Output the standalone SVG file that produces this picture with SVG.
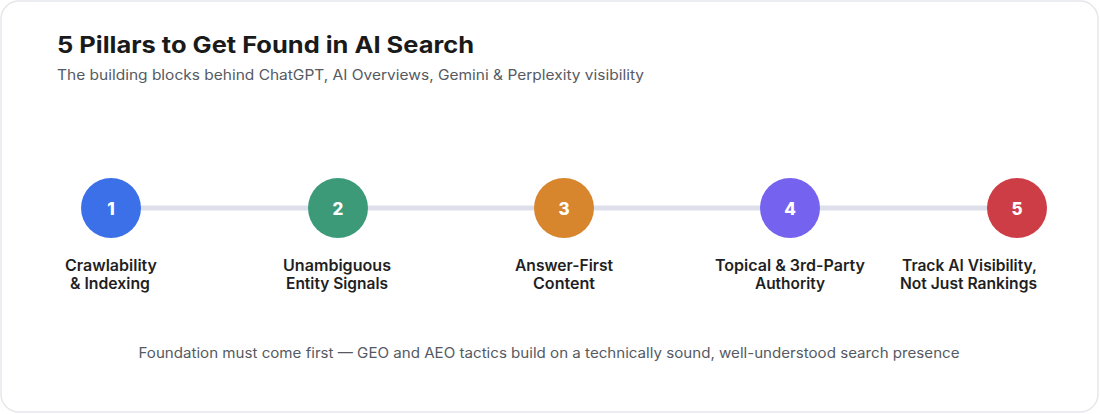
<svg xmlns="http://www.w3.org/2000/svg" width="1100" height="414" viewBox="0 0 1100 414">
<style>
.title{font-family:Inter,"Noto Sans","Liberation Sans",sans-serif;font-weight:700;font-size:22.5px;fill:#1a1a1a}
.sub{font-family:Inter,"Noto Sans","Liberation Sans",sans-serif;font-size:14px;fill:#555a62}
.num{font-family:Inter,"Noto Sans","Liberation Sans",sans-serif;font-weight:800;font-size:17px;fill:#ffffff;text-anchor:middle}
.lbl{font-family:Inter,"Noto Sans","Liberation Sans",sans-serif;font-weight:600;font-size:15.5px;fill:#1f1f24;text-anchor:middle}
.foot{font-family:Inter,"Noto Sans","Liberation Sans",sans-serif;font-size:14px;fill:#555a62;text-anchor:middle}
</style>
<rect x="1" y="1" width="1097" height="411" rx="18" fill="#ffffff" stroke="#e6e7eb" stroke-width="1.5"/>
<text class="title" x="57" y="53" textLength="417" lengthAdjust="spacingAndGlyphs">5 Pillars to Get Found in AI Search</text>
<text class="sub" x="57" y="80" textLength="587" lengthAdjust="spacingAndGlyphs">The building blocks behind ChatGPT, AI Overviews, Gemini &amp; Perplexity visibility</text>
<g id="connectors">
<line x1="111" y1="208" x2="1017" y2="208" stroke="#dde0ea" stroke-width="5"/>
</g>
<g id="node1">
<circle cx="111" cy="208" r="30" fill="#3b70e9"/>
<text class="num" x="111" y="214.5">1</text>
<text class="lbl" x="111" y="271" textLength="92" lengthAdjust="spacingAndGlyphs">Crawlability</text>
<text class="lbl" x="110" y="289" textLength="80" lengthAdjust="spacingAndGlyphs">&amp; Indexing</text>
</g>
<g id="node2">
<circle cx="338" cy="208" r="30" fill="#3d9a78"/>
<text class="num" x="338" y="214.5">2</text>
<text class="lbl" x="337" y="271" textLength="108" lengthAdjust="spacingAndGlyphs">Unambiguous</text>
<text class="lbl" x="337" y="289" textLength="102" lengthAdjust="spacingAndGlyphs">Entity Signals</text>
</g>
<g id="node3">
<circle cx="564" cy="208" r="30" fill="#d8862e"/>
<text class="num" x="564" y="214.5">3</text>
<text class="lbl" x="564" y="271" textLength="98" lengthAdjust="spacingAndGlyphs">Answer-First</text>
<text class="lbl" x="564" y="289" textLength="62" lengthAdjust="spacingAndGlyphs">Content</text>
</g>
<g id="node4">
<circle cx="790" cy="208" r="30" fill="#7562ee"/>
<text class="num" x="790" y="214.5">4</text>
<text class="lbl" x="790" y="271" textLength="150" lengthAdjust="spacingAndGlyphs">Topical &amp; 3rd-Party</text>
<text class="lbl" x="790" y="289" textLength="70" lengthAdjust="spacingAndGlyphs">Authority</text>
</g>
<g id="node5">
<circle cx="1017" cy="208" r="30" fill="#cc3d46"/>
<text class="num" x="1017" y="214.5">5</text>
<text class="lbl" x="969.5" y="271" textLength="135" lengthAdjust="spacingAndGlyphs">Track AI Visibility,</text>
<text class="lbl" x="968.5" y="289" textLength="137" lengthAdjust="spacingAndGlyphs">Not Just Rankings</text>
</g>
<text class="foot" x="549" y="358" textLength="821" lengthAdjust="spacingAndGlyphs">Foundation must come first — GEO and AEO tactics build on a technically sound, well-understood search presence</text>
</svg>
